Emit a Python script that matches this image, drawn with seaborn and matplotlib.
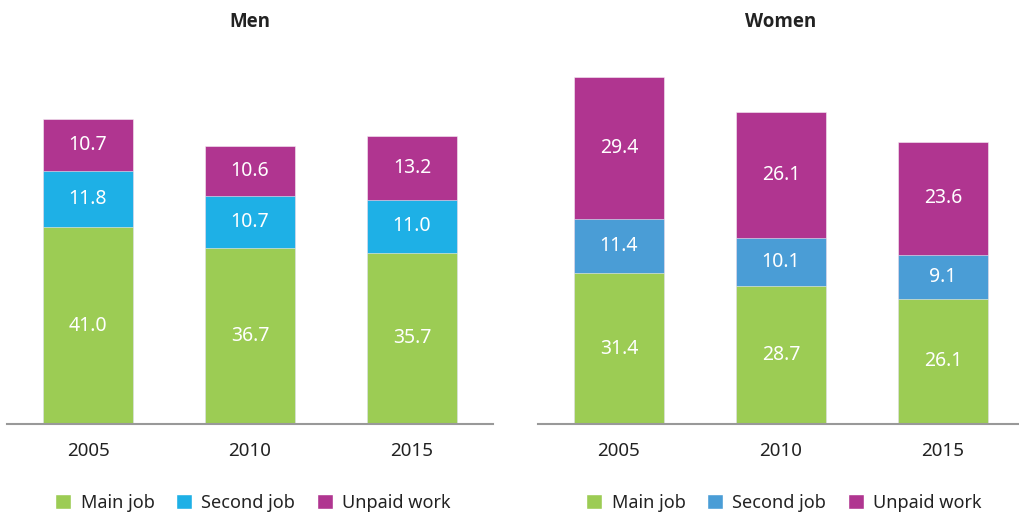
import numpy as np
import pandas as pd
import seaborn as sns
import matplotlib.pyplot as plt
from matplotlib.patches import Patch

years = ["2005", "2010", "2015"]
series = ["Main job", "Second job", "Unpaid work"]

men_main = [41.0, 36.7, 35.7]
men_second = [11.8, 10.7, 11.0]
men_unpaid = [10.7, 10.6, 13.2]

women_main = [31.4, 28.7, 26.1]
women_second = [11.4, 10.1, 9.1]
women_unpaid = [29.4, 26.1, 23.6]

green = "#9ccc54"
purple = "#b03590"
men_colors = [green, "#1eb0e6", purple]
women_colors = [green, "#4a9dd6", purple]

sns.set_theme(style="white")
plt.rcParams["font.family"] = ["Noto Sans", "DejaVu Sans"]

W, H = 1019, 513
fig = plt.figure(figsize=(W / 100, H / 100), dpi=100)

base_y = 424
px_per_unit = 4.8
ymax = 75
ax_h = ymax * px_per_unit
axes_spec = [
    ("Men", 7, [men_main, men_second, men_unpaid], men_colors),
    ("Women", 538, [women_main, women_second, women_unpaid], women_colors),
]

for title, left, vals, colors in axes_spec:
    ax = fig.add_axes([left / W, (H - base_y) / H, 486 / W, ax_h / H])
    df = pd.DataFrame({"year": years})
    cum = np.zeros(3)
    cums = []
    for v in vals:
        cum = cum + np.array(v)
        cums.append(cum.copy())
    # draw tallest first so the lower segments sit on top
    for i in range(2, -1, -1):
        df["h"] = cums[i]
        sns.barplot(data=df, x="year", y="h", color=colors[i], saturation=1,
                    width=0.556, edgecolor="#f4eef4", linewidth=0.4, ax=ax)
    # segment labels
    for i, v in enumerate(vals):
        bottoms = cums[i] - np.array(v)
        for j in range(3):
            ax.text(j, bottoms[j] + v[j] / 2, f"{v[j]:.1f}", ha="center",
                    va="center", color="white", fontsize=14)
    ax.set_xlim(-0.5, 2.5)
    ax.set_ylim(0, ymax)
    ax.set_xlabel("")
    ax.set_ylabel("")
    ax.set_yticks([])
    for s in ["top", "left", "right"]:
        ax.spines[s].set_visible(False)
    ax.spines["bottom"].set_color("#999999")
    ax.spines["bottom"].set_linewidth(1.5)
    ax.tick_params(axis="x", length=0, pad=13, labelsize=13.5, colors="#222222")
    fig.text((left + 243) / W, 1 - 22 / H, title, ha="center", va="center",
             fontsize=13.5, fontweight="bold", color="#222222",
             family=["Open Sans", "Lato", "DejaVu Sans"])
    handles = [Patch(facecolor=c, label=s) for c, s in zip(colors, series)]
    fig.legend(handles=handles, loc="center", ncol=3, frameon=False,
               bbox_to_anchor=((left + 246) / W, 1 - 503 / H),
               fontsize=13, handlelength=0.9, handleheight=0.9,
               handletextpad=0.5, columnspacing=1.2, labelcolor="#222222")

fig.savefig("out.png", dpi=100)
